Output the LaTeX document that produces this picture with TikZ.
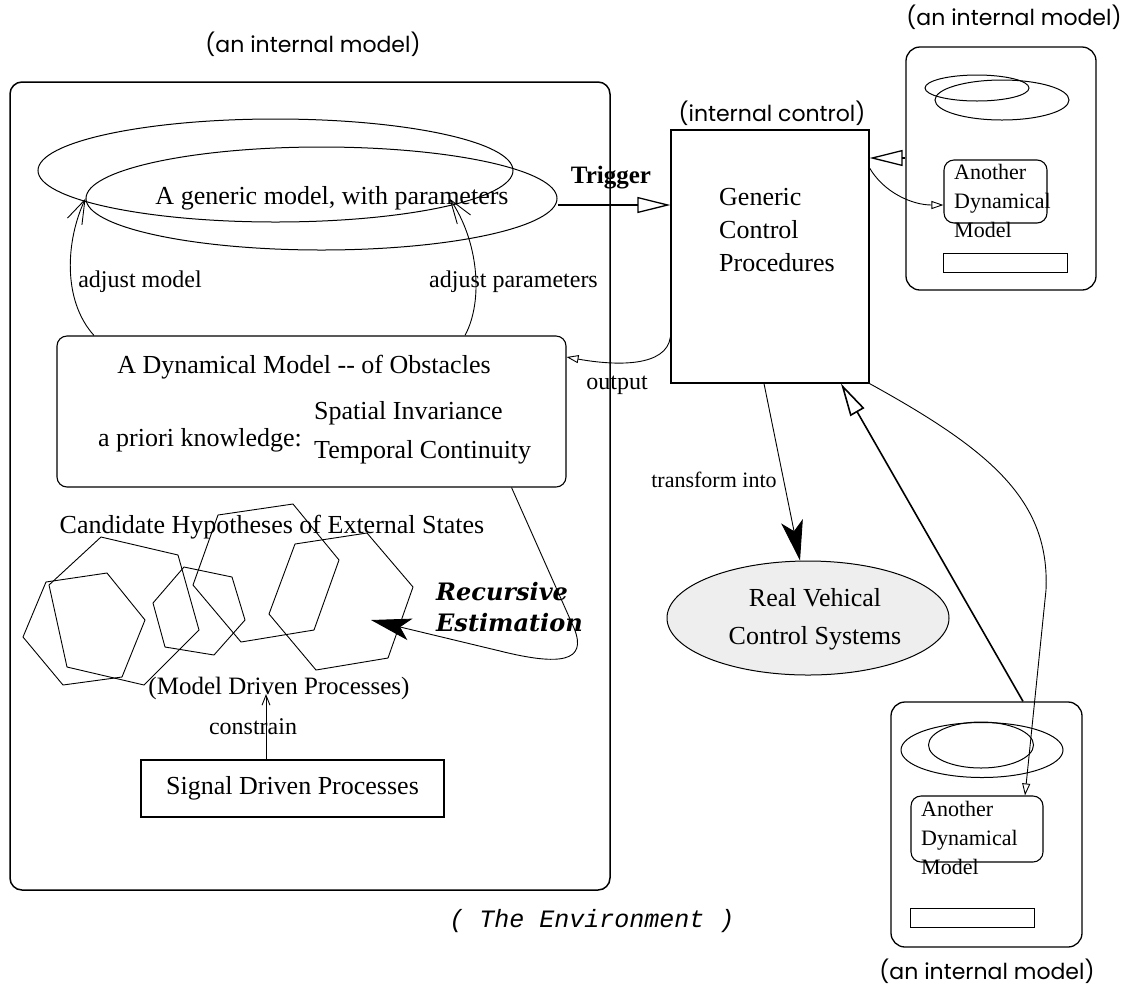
\documentclass[tikz,border=0pt]{standalone}
\usepackage{fontspec}
\setmainfont{Liberation Serif}
\setmonofont{Liberation Mono}
\newfontfamily\gothic{Poppins}
\newfontfamily\slab{DejaVu Serif}
\usetikzlibrary{shapes.geometric,arrows.meta}

\begin{document}
\begin{tikzpicture}[x=1pt,y=-1pt,
        every node/.style={inner sep=0pt},
        boxline/.style={draw,line width=1.2pt},
        rbox/.style={draw,line width=1.1pt,rounded corners=10pt},
        oval/.style={draw,ellipse,line width=1pt},
        hexline/.style={line width=0.9pt},
        serif/.style={font=\fontsize{26}{33}\selectfont},
        lbl/.style={font=\fontsize{24}{28}\selectfont},
        gothlbl/.style={font=\gothic\fontsize{22}{26}\selectfont},
        anotherdm/.style={align=left,anchor=west,font=\fontsize{22}{29}\selectfont},
        thinarr/.style={line width=0.9pt,-{Straight Barb[length=24pt,width=16pt]}},
        tinyarr/.style={line width=0.9pt,-{Straight Barb[length=10pt,width=8pt]}},
        openarr/.style={line width=0.9pt,-{Triangle[open,length=12pt,width=8pt]}},
        bigopen/.style={line width=1.3pt,-{Triangle[open,length=33pt,width=16pt]}},
        blackarr/.style={line width=0.9pt,-{Stealth[length=40pt,width=22pt,inset=10pt]}}]
    \useasboundingbox (0,0) rectangle (1121,989);

    % the environment, left
    \node[draw,line width=1.5pt,rounded corners=12pt,minimum width=600pt,minimum height=808pt] (envbox) at (310,486) {};
    \node[gothlbl] (envmodel) at (313,44) {(an internal model)};
    \node[font=\ttfamily\itshape\fontsize{25}{30}\selectfont] (envlbl) at (592,921) {( The Environment )};

    \node[oval,minimum width=475pt,minimum height=103pt] (modelA) at (275.5,170.5) {};
    \node[oval,minimum width=471pt,minimum height=103pt] (generic) at (321.5,198.5) {};
    \node[serif] (generictxt) at (332,198) {A generic model, with parameters};

    \node[rbox,minimum width=509pt,minimum height=151pt] (dyn) at (311.5,411.5) {};
    \node[serif] (dyntitle) at (304,367) {A Dynamical Model -{}- of Obstacles};
    \node[serif] (prior) at (200,440) {a priori knowledge:};
    \node[serif,anchor=west] (spat) at (314,413) {Spatial Invariance};
    \node[serif,anchor=west] (temp) at (314,452) {Temporal Continuity};

    \node[lbl] (adjmodel) at (140,282) {adjust model};
    \node[lbl,anchor=west] (adjpar) at (429,282) {adjust parameters};
    \draw[thinarr] ([xshift=-217.5pt]dyn.north) .. controls (62,300) and (66,240) .. (generic.west);
    \draw[thinarr] ([xshift=153.5pt]dyn.north) .. controls (484,300) and (478,240) .. ([xshift=128pt]generic.center);

    \node[serif] (cand) at (272,527) {Candidate Hypotheses of External States};
    \draw[hexline] (101,537) -- (178,555) -- (199,630) -- (144,685) -- (67,667) -- (49,585) -- cycle;
    \draw[hexline] (107,573) -- (145,620) -- (122,677) -- (63,685) -- (23,637) -- (46,582) -- cycle;
    \draw[hexline] (184,567) -- (232,577) -- (245,620) -- (214,655) -- (165,647) -- (153,603) -- cycle;
    \draw[hexline] (218,515) -- (293,504) -- (339,560) -- (314,630) -- (241,642) -- (193,585) -- cycle;
    \draw[hexline] (295,544) -- (367,533) -- (413,587) -- (388,658) -- (316,670) -- (269,614) -- cycle;

    \node[font=\slab\bfseries\itshape\fontsize{24}{31}\selectfont,align=left,anchor=west] (recur) at (436,607) {Recursive\\Estimation};
    \coordinate (estpt) at (371,620);
    \draw[blackarr] ([xshift=-55pt]dyn.south east) -- (574,628) .. controls (588,662) and (560,666) .. (500,651) -- (estpt);

    \node[font=\fontsize{25}{30}\selectfont] (mdp) at (279,688) {(Model Driven Processes)};
    \node[lbl] (constr) at (253,727) {constrain};
    \node[boxline,line width=1.1pt,minimum width=303pt,minimum height=57pt,serif] (sig) at (292.5,788.5) {Signal Driven Processes};
    \coordinate (sigtop) at ([xshift=-26.5pt]sig.north);
    \draw[tinyarr] (sigtop) -- (sigtop |- mdp.base);

    % internal control
    \node[boxline,minimum width=198pt,minimum height=253pt] (ctrl) at (770,256.5) {};
    \node[serif,align=left,anchor=west] (ctrltxt) at (719,230) {Generic\\Control\\Procedures};
    \node[gothlbl] (ctrllbl) at (772,113) {(internal control)};
    \node[font=\bfseries\fontsize{25}{30}\selectfont] (trig) at (611,178) {Trigger};
    \draw[bigopen] ([yshift=-6.5pt]generic.east) -- ([yshift=51.5pt]ctrl.west);
    \draw[openarr] ([yshift=-80.5pt]ctrl.west) .. controls +(-4,30) and +(50,9) .. ([yshift=54.5pt]dyn.east);
    \node[lbl] (outlbl) at (617,385) {output};

    \node[oval,fill=gray!13,minimum width=282pt,minimum height=114pt] (rv) at (808,618) {};
    \node[serif,align=center] (rvtxt) at (815,619) {Real Vehical\\[5pt]Control Systems};
    \draw[blackarr] ([xshift=-6pt]ctrl.south) -- ([xshift=-8pt]rv.north);
    \node[font=\fontsize{22}{26}\selectfont] (tinto) at (714,480) {transform into};

    % internal model, top right
    \node[rbox,rounded corners=14pt,line width=1.3pt,minimum width=190pt,minimum height=243pt] (irmA) at (1001,168.5) {};
    \node[gothlbl] (irmAlbl) at (1014,17) {(an internal model)};
    \node[oval,minimum width=104pt,minimum height=26pt] (irmAin) at (977,88) {};
    \node[oval,minimum width=134pt,minimum height=40pt] (irmAout) at (1002,100) {};
    \node[rbox,minimum width=103pt,minimum height=63pt] (admA) at (995.5,191.5) {};
    \node[anotherdm] (admAtxt) at (954,201) {Another\\Dynamical\\Model};
    \node[draw,line width=1pt,minimum width=124pt,minimum height=19pt] (irmAbar) at (1005,262.5) {};
    \draw[bigopen] ([yshift=10.5pt]irmA.west) -- ([yshift=98.5pt]ctrl.east);
    \draw[openarr] ([yshift=88.5pt]ctrl.east) .. controls +(14,24) and +(-32,0) .. ([yshift=-13.5pt]admA.west);

    % internal model, bottom right
    \node[rbox,rounded corners=14pt,line width=1.3pt,minimum width=191pt,minimum height=245pt] (irmB) at (986.5,824.5) {};
    \node[gothlbl] (irmBlbl) at (987,971) {(an internal model)};
    \node[oval,minimum width=162pt,minimum height=55pt] (irmBout) at (982,750) {};
    \node[oval,minimum width=105pt,minimum height=46pt] (irmBin) at (981,745) {};
    \node[rbox,minimum width=132pt,minimum height=66pt] (admB) at (977,829) {};
    \node[anotherdm] (admBtxt) at (921,838) {Another\\Dynamical\\Model};
    \node[draw,line width=1pt,minimum width=124pt,minimum height=19pt] (irmBbar) at (972,917.5) {};
    \draw[bigopen,line width=1.6pt] ([xshift=36.5pt]irmB.north) -- ([xshift=71pt]ctrl.south);
    \draw[openarr] (ctrl.south east) .. controls (990,450) and (1050,500) .. (1046,590) -- ([xshift=48pt]admB.north);
\end{tikzpicture}
\end{document}
